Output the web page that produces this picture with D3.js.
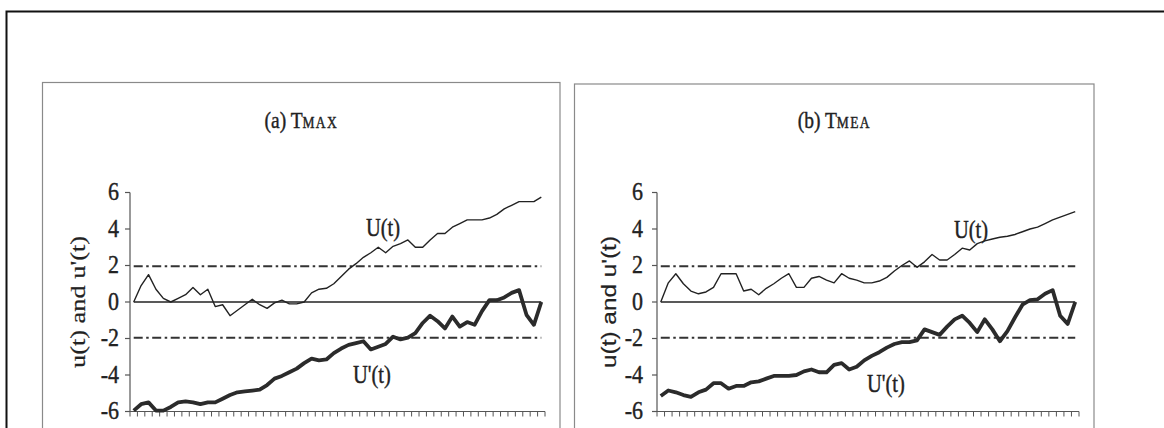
<!DOCTYPE html>
<html>
<head>
<meta charset="utf-8">
<script src="https://cdn.jsdelivr.net/npm/d3@7"></script>
<style>
  html, body { margin: 0; padding: 0; background: #fff; }
  svg { display: block; }
</style>
</head>
<body>
<svg id="chart" width="1164" height="428"></svg>
<script>
// categories (one per period, labels fall below the visible area)
const periods = d3.range(1, 57);

// (a) TMAX
const tmaxU = [0, 0.9, 1.5, 0.7, 0.2, 0.0, 0.2, 0.4, 0.8, 0.4, 0.7, -0.25, -0.15, -0.75, -0.45, -0.15,
    0.15, -0.15, -0.35, -0.05, 0.1, -0.1, -0.1, 0, 0.5, 0.7, 0.75, 1.0, 1.4, 1.8, 2.1, 2.45, 2.7, 3.0,
    2.7, 3.05, 3.2, 3.4, 3.0, 3.0, 3.4, 3.75, 3.75, 4.1, 4.3, 4.5, 4.5, 4.5, 4.6, 4.8, 5.1, 5.3, 5.5,
    5.5, 5.5, 5.75];
const tmaxUb = [-5.95, -5.6, -5.5, -5.95, -5.95, -5.75, -5.5, -5.45, -5.5, -5.6, -5.5, -5.5, -5.3, -5.1,
    -4.95, -4.9, -4.85, -4.8, -4.55, -4.2, -4.05, -3.85, -3.65, -3.35, -3.1, -3.2, -3.15, -2.8, -2.55,
    -2.35, -2.25, -2.15, -2.6, -2.45, -2.3, -1.9, -2.05, -1.95, -1.7, -1.15, -0.75, -1.05, -1.45, -0.8,
    -1.35, -1.1, -1.25, -0.5, 0.1, 0.1, 0.25, 0.5, 0.65, -0.7, -1.25, 0];

// (b) TMEA
const tmeaU = [0, 1.05, 1.55, 1.0, 0.6, 0.45, 0.55, 0.8, 1.55, 1.55, 1.55, 0.6, 0.7, 0.4, 0.75, 1.0,
    1.3, 1.55, 0.8, 0.8, 1.3, 1.4, 1.2, 1.05, 1.55, 1.3, 1.2, 1.05, 1.05, 1.15, 1.35, 1.7, 2.0, 2.25,
    1.9, 2.2, 2.6, 2.3, 2.3, 2.6, 2.95, 2.85, 3.2, 3.35, 3.45, 3.55, 3.6, 3.7, 3.85, 4.0, 4.1, 4.3,
    4.5, 4.65, 4.8, 4.95];
const tmeaUb = [-5.15, -4.85, -4.95, -5.1, -5.2, -4.95, -4.8, -4.45, -4.45, -4.75, -4.6, -4.6, -4.4,
    -4.35, -4.2, -4.05, -4.05, -4.05, -4.0, -3.8, -3.7, -3.85, -3.85, -3.45, -3.35, -3.7, -3.55, -3.2,
    -2.95, -2.75, -2.5, -2.3, -2.2, -2.2, -2.1, -1.5, -1.65, -1.8, -1.35, -0.95, -0.75, -1.15, -1.65,
    -0.95, -1.5, -2.15, -1.6, -0.85, -0.15, 0.1, 0.15, 0.45, 0.65, -0.75, -1.2, 0];

const yTicks = [-6, -4, -2, 0, 2, 4, 6];
const critical = [1.96, -1.96];

const serif = "'Liberation Serif', 'Times New Roman', serif";
const sans = "'Liberation Sans', Arial, sans-serif";
const ink = '#222';

const svg = d3.select('#chart');

// outer frame of the scanned page
svg.append('rect')
    .attr('x', 6.5).attr('y', 11.5)
    .attr('width', 1200).attr('height', 500)
    .attr('fill', 'none').attr('stroke', '#111').attr('stroke-width', 2);

const panels = [
    {id: 'a', letter: '(a) T', sub: 'MAX', u: tmaxU, ub: tmaxUb,
     box: [42.5, 82.5, 560], axis: [130, 545], labelX: 78, labelFont: serif,
     uPos: [366, 236], ubPos: [353, 383], tickGap: 11},
    {id: 'b', letter: '(b) T', sub: 'MEA', u: tmeaU, ub: tmeaUb,
     box: [574.5, 84, 1094], axis: [657, 1079], labelX: 608, labelFont: sans,
     uPos: [954, 238], ubPos: [867, 392], tickGap: 14}
];

const y = d3.scaleLinear().domain([-6, 6]).range([411.5, 192.5]);

// scanned text looks heavier than a clean render
const inked = sel => sel.attr('fill', ink).attr('stroke', ink).attr('stroke-width', 0.35);

panels.forEach(p => {
    const g = svg.append('g').attr('id', 'panel-' + p.id);

    g.append('rect')
        .attr('x', p.box[0]).attr('y', p.box[1])
        .attr('width', p.box[2] - p.box[0]).attr('height', 400)
        .attr('fill', 'none').attr('stroke', '#8a8a8a').attr('stroke-width', 1.2);

    const x = d3.scaleBand().domain(periods).range(p.axis).padding(0);
    const cx = d => x(d) + x.bandwidth() / 2;

    // title
    const title = g.append('text')
        .attr('transform', `translate(${(p.box[0] + p.box[2]) / 2}, 128) scale(1, 1.2)`)
        .attr('text-anchor', 'middle')
        .style('font-family', serif)
        .call(inked);
    title.append('tspan').style('font-size', '19.5px').text(p.letter);
    title.append('tspan').style('font-size', '13.5px').attr('letter-spacing', 1.3).text(p.sub);

    // y axis
    g.append('line')
        .attr('x1', p.axis[0]).attr('x2', p.axis[0])
        .attr('y1', y(6)).attr('y2', y(-6))
        .attr('stroke', '#555').attr('stroke-width', 1.2);
    yTicks.forEach(t => {
        g.append('line')
            .attr('x1', p.axis[0] - 5).attr('x2', p.axis[0])
            .attr('y1', y(t)).attr('y2', y(t))
            .attr('stroke', '#555').attr('stroke-width', 1.2);
        g.append('text')
            .attr('transform', `translate(${p.axis[0] - p.tickGap}, ${y(t) + 7.5}) scale(1, 1.12)`)
            .attr('text-anchor', 'end')
            .style('font-family', serif).style('font-size', '22px')
            .call(inked)
            .text(t);
    });

    // x axis with a tick at every category boundary
    g.append('line')
        .attr('x1', p.axis[0]).attr('x2', p.axis[1])
        .attr('y1', y(-6)).attr('y2', y(-6))
        .attr('stroke', '#555').attr('stroke-width', 1.2);
    periods.concat([null]).forEach((d, i) => {
        const tx = i < periods.length ? x(d) : p.axis[1];
        g.append('line')
            .attr('x1', tx).attr('x2', tx)
            .attr('y1', y(-6)).attr('y2', y(-6) + 5)
            .attr('stroke', '#555').attr('stroke-width', 1);
    });

    // y axis title
    g.append('text')
        .attr('transform', `translate(${p.labelX}, ${y(0)}) rotate(-90)`)
        .attr('text-anchor', 'middle').attr('dominant-baseline', 'central')
        .attr('textLength', 132).attr('lengthAdjust', 'spacingAndGlyphs')
        .style('font-family', p.labelFont).style('font-size', '21px')
        .call(inked)
        .attr('stroke-width', 0.2)
        .text("u(t) and u'(t)");

    const line = d3.line().x((v, i) => cx(periods[i])).y(v => y(v));
    const flat = v => periods.map(() => v);

    // zero line and ±1.96 confidence lines
    g.append('path').datum(flat(0)).attr('d', line)
        .attr('fill', 'none').attr('stroke', ink).attr('stroke-width', 1.5);
    critical.forEach(c => {
        g.append('path').datum(flat(c)).attr('d', line)
            .attr('fill', 'none').attr('stroke', '#333').attr('stroke-width', 1.8)
            .attr('stroke-dasharray', '9,3.5,2.5,3.5');
    });

    g.append('path').datum(p.u).attr('d', line)
        .attr('fill', 'none').attr('stroke', ink).attr('stroke-width', 1.4)
        .attr('stroke-linejoin', 'round');
    g.append('path').datum(p.ub).attr('d', line)
        .attr('fill', 'none').attr('stroke', '#2b2b2b').attr('stroke-width', 3.8)
        .attr('stroke-linejoin', 'round');

    g.append('text')
        .attr('transform', `translate(${p.uPos[0]}, ${p.uPos[1]}) scale(1, 1.2)`)
        .style('font-family', serif).style('font-size', '20.5px')
        .call(inked)
        .text('U(t)');
    g.append('text')
        .attr('transform', `translate(${p.ubPos[0]}, ${p.ubPos[1]}) scale(1, 1.2)`)
        .style('font-family', serif).style('font-size', '20.5px')
        .call(inked)
        .text("U'(t)");
});
</script>
</body>
</html>
